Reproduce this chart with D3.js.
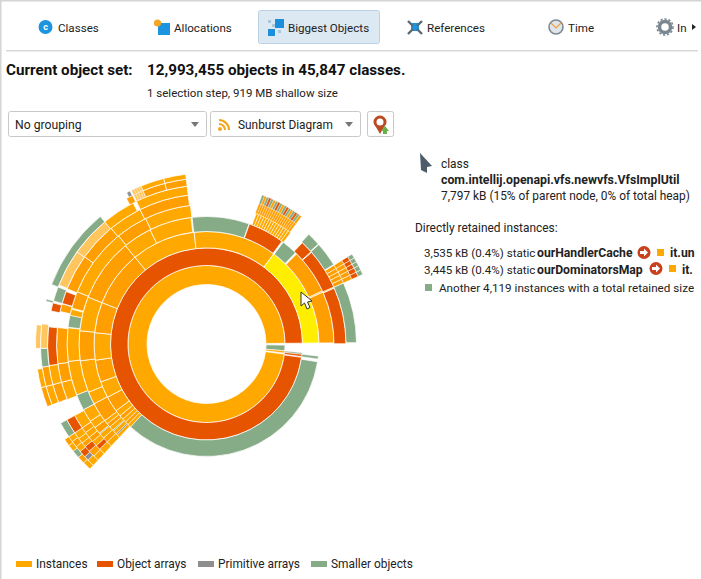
<!DOCTYPE html>
<html>
<head>
<meta charset="utf-8">
<script src="https://cdn.jsdelivr.net/npm/d3@7"></script>
<style>
body { margin: 0; background: #fff; }
text { font-family: Roboto, "Open Sans", sans-serif; font-size: 11.9px; fill: #222; }
</style>
</head>
<body>
<svg id="chart" width="701" height="579"></svg>
<script>
// retained heap per ring, [kind, degrees of the full circle], walking clockwise from 3 o'clock
// kind "_" is an empty stretch of the ring
var ring1 = [["_",1.3],["S",4.2],["I",1.5],["_",0.9],["I",352.1]];
var ring2 = [["_",5.7],["S",1],["O",1.3],["_",0.5],["O",351.5]];
var ring3 = [["_",6.7],["S",1.4],["_",1.5],["S",123.4],["I",1.8],["J",1.8],["I",2],["J",2.2],["I",3.3],
    ["J",8.1],["I",8.6],["J",11.4],["I",14.1],["J",15.8],["J",28.9],["I",33.2],["I",43],["_",0.1],["Y",52.7]];
var ring4 = [["_",133.5],["I",1.5],["P",0.6],["I",1.8],["S",0.5],["I",2],["J",1.8],["I",1.8],
    ["J",9],["I",5.8],["I",14.6],["J",13.6],["I",15.6],["J",28.9],["I",13.2],["I",19.3],["_",0.5],
    ["S",26],["_",0.2],["O",16.6],["_",0.7],["S",7.3],["_",0.7],["J",20.4],["L",0.6],["J",23.5]];
var ring5 = [["_",133.5],["I",2.4],["J",2.2],["I",2.2],["S",0.4],["J",3],["I",3.2],["I",5.5],["S",6.7],
    ["I",14.2],["I",13.9],["_",0.2],["S",5],["I",2.5],["_",0.5],["J",7.1],["I",28.9],["J",13.2],["I",19.3],["_",27.5],
    ["I",1.15],["I",1.15],["I",1.15],["I",1.15],["I",1.15],["I",1.15],["I",1.15],["I",1.15],["I",1.15],["I",1.15],["I",1.15],["I",1.15],["I",1.15],["I",1.25],
    ["_",6.3],["O",5.2],["_",0.3],["O",17],["L",0.5],["O",23.5]];
var ring6 = [["_",133.5],["I",2.5],["O",1.8],["I",2.2],["J",2],["I",2.3],["J",2.2],["I",5.5],["_",6.7],
    ["I",7],["J",7.2],["J",13.9],["_",6.2],["J",3],["_",0.2],["O",4.8],["_",1.1],["J",14],["J",14.9],["I",13.2],["J",19.3],["_",27.5],
    ["J",0.9],["J",0.9],["J",0.9],["J",0.9],["J",0.9],["J",0.9],["J",0.9],["J",0.9],["J",0.9],["J",0.9],["J",0.9],["J",0.9],["J",0.9],["J",0.9],["J",0.9],["J",0.9],["J",0.9],["J",0.9],
    ["_",6.3],["S",5.2],["_",0.3],["S",9.5],["_",0.3],["J",1.5],["J",1.5],["J",1.5],["J",1.6],["J",1.6],["S",23.5]];
var ring7 = [["_",133.5],["I",2.2],["J",2.4],["O",2.2],["J",1.7],["I",2],["I",2.5],["O",5.5],["_",6.9],
    ["J",6.8],["I",7],["O",14],["_",5.8],["O",3],["_",0.7],["S",5.3],["_",0.8],["L",13.6],["L",14.8],["I",12.3],["_",1.3],["I",19.2],["_",27.5],
    ["S",0.9],["J",0.9],["S",0.9],["O",0.9],["S",0.9],["J",0.9],["S",0.9],["O",0.9],["S",0.9],["J",0.9],["S",0.9],["O",0.9],["S",0.9],["J",0.9],["S",0.9],["O",0.9],["S",0.9],["J",0.9],
    ["_",21.6],["J",1.5],["J",1.5],["J",1.5],["J",1.6],["J",1.6]];
var ring8 = [["_",133.5],["I",2.6],["P",1.6],["O",2.4],["I",2.2],["J",2.2],["I",2],["S",5.5],["_",7],
    ["I",6.7],["J",6.8],["S",6.5],["L",8.5],["_",8],["S",0.6],["_",5.4],["S",29.2],["_",11],["J",2.3],["_",0.5],
    ["L",0.9],["L",0.9],["L",0.9],["L",0.8],["J",8],["J",7.5],["_",65.3],["O",1.5],["O",1.5],["O",1.5],["O",1.6],["O",1.6]];
var ring9 = [["_",133.5],["I",3],["J",2.5],["S",2.7],["I",2.4],["J",2.4],["_",12.5],["J",6.7],["I",6.3],["_",7],["L",8],["_",55.7],
    ["P",1.2],["_",0.6],["L",0.9],["L",0.9],["L",0.9],["L",0.8],["I",8],["I",7.5],["_",65.3],["S",1.5],["S",1.5],["S",1.5],["S",1.6],["S",1.6]];

var rings = [ring1, ring2, ring3, ring4, ring5, ring6, ring7, ring8, ring9];

var legendLabels = ["Instances", "Object arrays", "Primitive arrays", "Smaller objects"];
var legendKinds = ["I", "O", "P", "S"];
var tabLabels = ["Classes", "Allocations", "Biggest Objects", "References", "Time", "In"];

var colors = {I: "#ffa900", J: "#ff9e00", O: "#e65400", P: "#8e8e8e", S: "#86ab87", L: "#ffc660", Y: "#ffee00"};

var svg = d3.select("#chart");

// ---- sunburst ----
var cx = 206.5, cy = 344;
var ringEdges = [59.5, 78.5, 96, 112.5, 127.5, 139.5, 150, 159, 166, 171];
var startAngle = (89.5) * Math.PI / 180;
var angle = d3.scaleLinear().domain([0, 360]).range([startAngle, startAngle + 2 * Math.PI]);
var arc = d3.arc();

var sun = svg.append("g").attr("transform", `translate(${cx},${cy})`);

rings.forEach((ring, depth) => {
    var ends = d3.cumsum(ring, d => d[1]);
    var cells = ring.map((d, i) => ({
        kind: d[0],
        size: d[1],
        from: i == 0 ? 0 : ends[i - 1],
        to: ends[i]
    })).filter(d => d.kind != "_");

    sun.selectAll("path.r" + depth)
        .data(cells)
        .join("path")
        .attr("class", "r" + depth)
        .attr("d", d => arc({
            innerRadius: ringEdges[depth],
            outerRadius: ringEdges[depth + 1],
            startAngle: angle(d.from),
            endAngle: angle(d.to)
        }))
        .attr("fill", d => colors[d.kind])
        .attr("stroke", "#fff")
        .attr("stroke-width", d => d.size < 1 ? 0.3 : (d.size < 3 ? 0.55 : 0.75));
});

// ---- window frame ----
svg.append("rect").attr("x", 0).attr("y", 0).attr("width", 701).attr("height", 1.5).attr("fill", "#d4d4d4");
svg.append("rect").attr("x", 0).attr("y", 0).attr("width", 1.5).attr("height", 579).attr("fill", "#d4d4d4");
svg.append("rect").attr("x", 6).attr("y", 50).attr("width", 692).attr("height", 1.5).attr("fill", "#d8d8d8");

// ---- tabs ----
svg.append("rect").attr("x", 258.5).attr("y", 10.5).attr("width", 121).attr("height", 33).attr("rx", 2)
    .attr("fill", "#dce8f2").attr("stroke", "#bcd2e4");

var tabX = [58, 174, 288, 427, 568, 677];
svg.selectAll("text.tab")
    .data(tabLabels)
    .join("text")
    .attr("class", "tab")
    .attr("x", (d, i) => tabX[i])
    .attr("y", 32)
    .style("font-size", "11.6px")
    .text(d => d);

// tab icons
svg.append("circle").attr("cx", 45.5).attr("cy", 27).attr("r", 7).attr("fill", "#1c94e0");
svg.append("text").attr("x", 45.5).attr("y", 30).attr("text-anchor", "middle")
    .style("font-size", "9px").style("font-weight", "bold").style("fill", "#fff").text("c");

svg.append("rect").attr("x", 158).attr("y", 23).attr("width", 12).attr("height", 12).attr("fill", "#1c94e0");
svg.append("circle").attr("cx", 157.5).attr("cy", 23).attr("r", 3.6).attr("fill", "#f5a623");

[[268, 29, 7, "#1c8fdc"], [275, 19, 9, "#1c8fdc"], [268, 20, 3, "#a9c9df"], [272, 24, 3, "#a9c9df"], [278, 30, 3, "#a9c9df"]].forEach(s => {
    svg.append("rect").attr("x", s[0]).attr("y", s[1]).attr("width", s[2]).attr("height", s[2]).attr("fill", s[3]);
});

svg.append("rect").attr("x", 411).attr("y", 23).attr("width", 8).attr("height", 8).attr("fill", "#1c94e0");
[[408, 21, 413, 26], [422, 21, 417, 26], [408, 34, 413, 29], [422, 34, 417, 29]].forEach(l => {
    svg.append("line").attr("x1", l[0]).attr("y1", l[1]).attr("x2", l[2]).attr("y2", l[3])
        .attr("stroke", "#5a6a78").attr("stroke-width", 2.4);
});

svg.append("circle").attr("cx", 556).attr("cy", 27).attr("r", 7).attr("fill", "#dfe5ea").attr("stroke", "#7d8a95").attr("stroke-width", 1.6);
svg.append("path").attr("d", "M551 23 L556 28 L561 23").attr("fill", "none").attr("stroke", "#f0a040").attr("stroke-width", 1.2);

svg.append("circle").attr("cx", 665).attr("cy", 27).attr("r", 5.5).attr("fill", "#fff").attr("stroke", "#7b8790").attr("stroke-width", 3.5);
svg.append("circle").attr("cx", 665).attr("cy", 27).attr("r", 8).attr("fill", "none").attr("stroke", "#7b8790").attr("stroke-width", 1.6).attr("stroke-dasharray", "2.2 1.9");
svg.append("path").attr("d", "M692 24 L696 27 L692 30 Z").attr("fill", "#222");

// ---- header text ----
svg.append("text").attr("x", 6).attr("y", 75).style("font-weight", "bold").style("font-size", "15.2px").style("fill", "#111").text("Current object set:");
svg.append("text").attr("x", 147).attr("y", 75).style("font-weight", "bold").style("font-size", "15.2px").style("fill", "#111").text("12,993,455 objects in 45,847 classes.");
svg.append("text").attr("x", 147).attr("y", 97).style("font-size", "11.5px").text("1 selection step, 919 MB shallow size");

// ---- controls ----
[[8.5, 198], [210.5, 150], [367.5, 26]].forEach(b => {
    svg.append("rect").attr("x", b[0]).attr("y", 111.5).attr("width", b[1]).attr("height", 25).attr("rx", 2)
        .attr("fill", "#fff").attr("stroke", "#c8c8c8");
});
svg.append("text").attr("x", 15).attr("y", 129).style("font-size", "12.2px").text("No grouping");
svg.append("text").attr("x", 238).attr("y", 129).text("Sunburst Diagram");
[195, 349].forEach(x => {
    svg.append("path").attr("d", `M${x - 4} 122 L${x + 4} 122 L${x} 127 Z`).attr("fill", "#777");
});
// feed-like sunburst icon
["M219 120 A 10 10 0 0 1 229 130", "M219 124 A 6 6 0 0 1 225 130"].forEach(p => {
    svg.append("path").attr("d", p).attr("fill", "none").attr("stroke", "#f0a820").attr("stroke-width", 2.2);
});
svg.append("circle").attr("cx", 220).attr("cy", 129).attr("r", 2).attr("fill", "#f0a820");
svg.append("circle").attr("cx", 380).attr("cy", 122).attr("r", 5).attr("fill", "#fff").attr("stroke", "#bb4a22").attr("stroke-width", 3);
svg.append("path").attr("d", "M376 127 L380 134 L384 127 Z").attr("fill", "#bb4a22");
svg.append("path").attr("d", "M381 131 L385 126 L389 131 L387 131 L387 134 L383 134 L383 131 Z").attr("fill", "#6ab04c");

// ---- info panel ----
svg.append("path").attr("d", "M420 153 L432 166 L427 167 L427 173 L421 170 Z").attr("fill", "#4c5c6a");
svg.append("text").attr("x", 441).attr("y", 168).text("class");
svg.append("text").attr("x", 441).attr("y", 184).style("font-weight", "bold").style("font-size", "12.3px").text("com.intellij.openapi.vfs.newvfs.VfsImplUtil");
svg.append("text").attr("x", 441).attr("y", 200).text("7,797 kB (15% of parent node, 0% of total heap)");
svg.append("text").attr("x", 415).attr("y", 232).text("Directly retained instances:");

function arrowIcon(x, y) {
    svg.append("circle").attr("cx", x).attr("cy", y).attr("r", 6.5).attr("fill", "#c8401c");
    svg.append("path").attr("d", `M${x - 4} ${y - 1.5} h4 v-2.5 l4 4 l-4 4 v-2.5 h-4 Z`).attr("fill", "#fff");
}

svg.append("text").attr("x", 424).attr("y", 257).style("font-size", "11.6px").text("3,535 kB (0.4%) static");
svg.append("text").attr("x", 537).attr("y", 257).style("font-weight", "bold").style("font-size", "12.2px").text("ourHandlerCache");
arrowIcon(644, 252.5);
svg.append("rect").attr("x", 657).attr("y", 249).attr("width", 7).attr("height", 7).attr("fill", "#ffa900");
svg.append("text").attr("x", 670).attr("y", 257).style("font-weight", "bold").style("font-size", "12.2px").text("it.un");

svg.append("text").attr("x", 424).attr("y", 274).style("font-size", "11.6px").text("3,445 kB (0.4%) static");
svg.append("text").attr("x", 537).attr("y", 274).style("font-weight", "bold").style("font-size", "12.2px").text("ourDominatorsMap");
arrowIcon(656, 268.5);
svg.append("rect").attr("x", 669).attr("y", 265).attr("width", 7).attr("height", 7).attr("fill", "#ffa900");
svg.append("text").attr("x", 682).attr("y", 274).style("font-weight", "bold").style("font-size", "12.2px").text("it.");

svg.append("rect").attr("x", 425).attr("y", 284).attr("width", 7).attr("height", 7).attr("fill", "#86ab87");
svg.append("text").attr("x", 439).attr("y", 292).style("font-size", "11.7px").text("Another 4,119 instances with a total retained size");

// cursor over the hovered slice
svg.append("path").attr("d", "M301 292 L301 306 L304.5 303 L307 309 L310 307.5 L307.5 302 L312 301 Z")
    .attr("fill", "#fff").attr("stroke", "#333").attr("stroke-width", 1);

// ---- legend ----
var legendX = [16, 97, 198, 311];
var legend = svg.selectAll("g.legend")
    .data(legendLabels)
    .join("g")
    .attr("class", "legend")
    .attr("transform", (d, i) => `translate(${legendX[i]},561)`);
legend.append("rect").attr("width", 16).attr("height", 6).attr("fill", (d, i) => colors[legendKinds[i]]);
legend.append("text").attr("x", 20).attr("y", 7).text(d => d);
</script>
</body>
</html>
